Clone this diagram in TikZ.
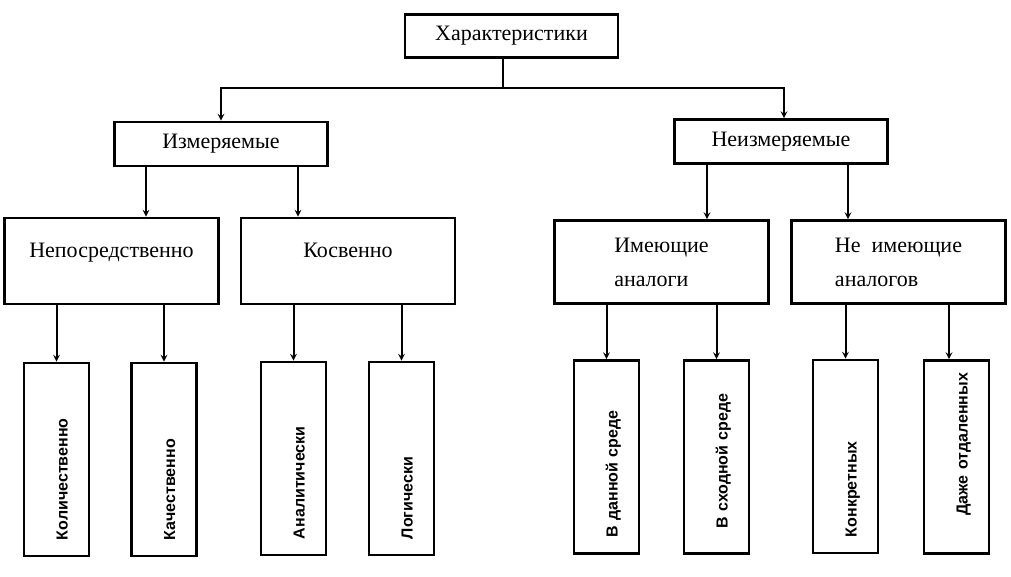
\documentclass[tikz,border=0pt]{standalone}
\usepackage{fontspec}
\setmainfont{Liberation Serif}
\setsansfont{Liberation Sans}
\usetikzlibrary{arrows,positioning}

\begin{document}
\begin{tikzpicture}[
    x=1pt, y=-1pt,
    topbox/.style={rectangle, draw=black, line width=2.6pt, minimum width=213pt, minimum height=43pt, font=\fontsize{22}{26}\selectfont},
    groupbox/.style={rectangle, draw=black, line width=2.6pt, minimum width=213pt, minimum height=44pt, font=\fontsize{22}{26}\selectfont},
    subbox/.style={rectangle, draw=black, line width=2.6pt, minimum width=214pt, minimum height=86pt, inner ysep=0pt, text height=39pt, text depth=47pt, font=\fontsize{22}{26}\selectfont},
    pairbox/.style={rectangle, draw=black, line width=2.6pt, minimum width=214pt, minimum height=83pt, align=left, font=\fontsize{22}{26}\selectfont},
    leaf/.style={rectangle, draw=black, line width=2.6pt, rotate=90, minimum width=193pt, minimum height=65pt, text width=#1, align=left, text height=25pt, text depth=3pt, font=\sffamily\bfseries\fontsize{16}{19}\selectfont},
    leaf/.default=161pt,
    arrow/.style={->, >=stealth, line width=2pt},
]

\useasboundingbox (0,0) rectangle (1011,576);

% Top
\node[topbox] (top) at (511.5,36) {Характеристики};

% Groups
\node[groupbox] (meas) at (221,144) {Измеряемые};
\node[groupbox] (nonmeas) at (781,141.5) {Неизмеряемые};

% Subgroups
\node[subbox] (direct) at (111.5,261) {Непосредственно};
\node[subbox] (indirect) at (348,261) {Косвенно};
\node[pairbox] (analog) at (661.5,262) {Имеющие\\[8pt]аналоги};
\node[pairbox] (noanalog) at (898.5,262) {Не\ \ имеющие\\[8pt]аналогов};

% Leaves
\node[leaf] (quant) at (56.5,459.5) {Количественно};
\node[leaf] (qual) at (164,459.5) {Качественно};
\node[leaf] (analyt) at (293.5,458.5) {Аналитически};
\node[leaf] (logic) at (401.5,458.5) {Логически};
\node[leaf] (samemed) at (606.5,457) {В данной среде};
\node[leaf=143pt] (simmed) at (716.5,457) {В сходной среде};
\node[leaf] (concrete) at (845.5,456.5) {Конкретных};
\node[leaf=117pt] (remote) at (956.5,457) {\mbox{Даже отдаленных}};

% Top to groups
\coordinate (split) at (503,88);
\draw[line width=2pt] ([xshift=-8.5pt]top.south) -- (split);
\draw[arrow] (split) -| (meas.north);
\draw[arrow] (split) -| ([xshift=3pt]nonmeas.north);

% Groups to subgroups
\draw[arrow] ([xshift=-75pt]meas.south) -- ([xshift=34.5pt]direct.north);
\draw[arrow] ([xshift=77pt]meas.south) -- ([xshift=-50pt]indirect.north);
\draw[arrow] ([xshift=-74pt]nonmeas.south) -- ([xshift=45.5pt]analog.north);
\draw[arrow] ([xshift=67pt]nonmeas.south) -- ([xshift=-50.5pt]noanalog.north);

% Subgroups to leaves
\draw[arrow] ([xshift=-55pt]direct.south) -- (quant.east);
\draw[arrow] ([xshift=52.5pt]direct.south) -- (qual.east);
\draw[arrow] ([xshift=-54.5pt]indirect.south) -- (analyt.east);
\draw[arrow] ([xshift=53.5pt]indirect.south) -- (logic.east);
\draw[arrow] ([xshift=-55pt]analog.south) -- (samemed.east);
\draw[arrow] ([xshift=55pt]analog.south) -- (simmed.east);
\draw[arrow] ([xshift=-53pt]noanalog.south) -- (concrete.east);
\draw[arrow] ([xshift=50.5pt]noanalog.south) -- ([xshift=-7.5pt]remote.east);

\end{tikzpicture}
\end{document}
